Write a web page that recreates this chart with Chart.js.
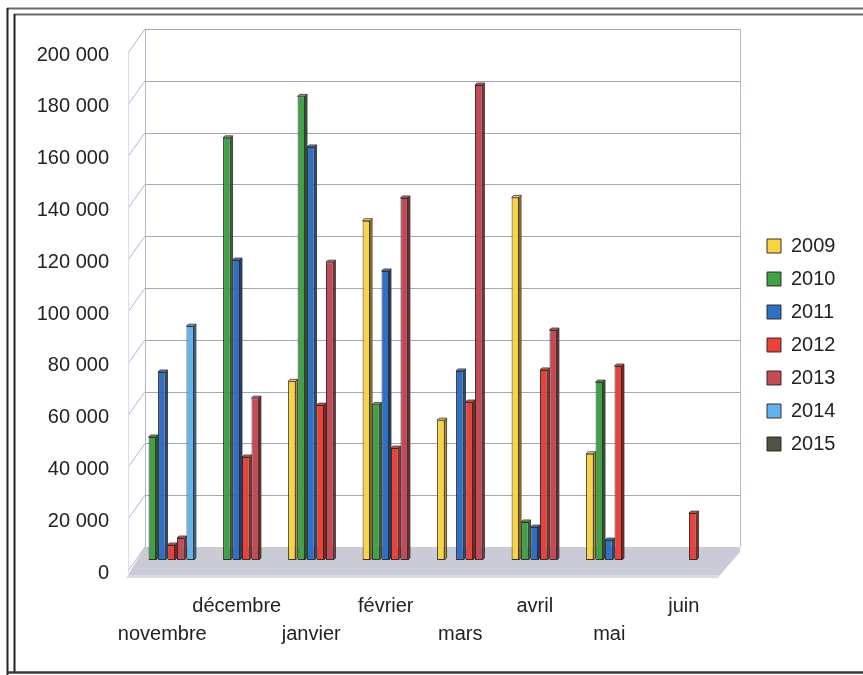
<!DOCTYPE html>
<html>
<head>
<meta charset="utf-8">
<title>Volumes mensuels 2009-2015</title>
<script src="https://cdn.jsdelivr.net/npm/chart.js@4/dist/chart.umd.min.js"></script>
<style>
  html, body { margin: 0; padding: 0; background: #ffffff; }
  #wrap { width: 863px; height: 675px; }
</style>
</head>
<body>
<div id="wrap"><canvas id="chart" width="863" height="675"></canvas></div>
<script>
// Months of the season, November to June
const months = ['novembre', 'décembre', 'janvier', 'février', 'mars', 'avril', 'mai', 'juin'];
const years = ['2009', '2010', '2011', '2012', '2013', '2014', '2015'];

// One array of monthly values per season (null = no value for that month)
const values2009 = [null, null, 69000, 131000, 54000, 140000, 41000, null];
const values2010 = [47500, 163000, 179000, 60000, null, 14700, 68700, null];
const values2011 = [72600, 115800, 159500, 111600, 73000, 12700, 7700, null];
const values2012 = [5800, 39800, 59800, 43200, 61000, 73400, 74900, 18100];
const values2013 = [8500, 62500, 115000, 139800, 183400, 88800, null, null];
const values2014 = [90300, null, null, null, null, null, null, null];
const values2015 = [null, null, null, null, null, null, null, null];

const yTickLabels = ['0', '20 000', '40 000', '60 000', '80 000', '100 000',
                     '120 000', '140 000', '160 000', '180 000', '200 000'];

const seriesValues = [values2009, values2010, values2011, values2012, values2013, values2014, values2015];
const seriesColors = ['#f6d443', '#41a048', '#2f6fc6', '#e8423a', '#c24b55', '#62b2ec', '#4d5444'];

const FONT = "'Liberation Sans', Arial, sans-serif";

// Depth offsets of the pseudo-3D box relative to the bar plane
const FRONT = { dx: -6, dy: 13 };
const BACK = { dx: 11, dy: -13 };
const BAR_DEPTH = 2;

function shade(hex, f) {
  const n = parseInt(hex.slice(1), 16);
  let r = (n >> 16) & 255, g = (n >> 8) & 255, b = n & 255;
  if (f < 0) { r *= 1 + f; g *= 1 + f; b *= 1 + f; }
  else { r += (255 - r) * f; g += (255 - g) * f; b += (255 - b) * f; }
  return `rgb(${Math.round(r)},${Math.round(g)},${Math.round(b)})`;
}

// Double frame around the whole figure
const framePlugin = {
  id: 'frame',
  beforeDraw(chart) {
    const ctx = chart.ctx;
    const W = chart.width, H = chart.height;
    ctx.save();
    ctx.fillStyle = '#ffffff';
    ctx.fillRect(0, 0, W, H);
    ctx.strokeStyle = '#6a6a6a';
    ctx.lineWidth = 2;
    ctx.beginPath();
    ctx.moveTo(7, 8.5); ctx.lineTo(W, 8.5);
    ctx.moveTo(14, 14.5); ctx.lineTo(W, 14.5);
    ctx.stroke();
    ctx.strokeStyle = '#222222';
    ctx.beginPath();
    ctx.moveTo(7.5, 8); ctx.lineTo(7.5, H);
    ctx.moveTo(14.5, 14); ctx.lineTo(14.5, 672);
    ctx.stroke();
    ctx.strokeStyle = '#3a3a3a';
    ctx.lineWidth = 2.5;
    ctx.beginPath();
    ctx.moveTo(7, 672.5); ctx.lineTo(W, 672.5);
    ctx.stroke();
    ctx.restore();
  }
};

// Back wall, side wall and floor of the 3D box, built from the y scale ticks
const wallsPlugin = {
  id: 'walls',
  beforeDatasetsDraw(chart) {
    const { ctx, chartArea } = chart;
    const ys = chart.scales.y;
    const L = chartArea.left, R = chartArea.right;
    const base = ys.getPixelForValue(0);
    const top = ys.getPixelForValue(ys.max);
    ctx.save();

    // floor
    ctx.fillStyle = '#cbcbd7';
    ctx.beginPath();
    ctx.moveTo(L + FRONT.dx, base + FRONT.dy + 2);
    ctx.lineTo(R - 10, base + FRONT.dy + 2);
    ctx.lineTo(R + BACK.dx - 1, base + BACK.dy + 5);
    ctx.lineTo(R + BACK.dx - 1, base + BACK.dy);
    ctx.lineTo(L + BACK.dx, base + BACK.dy);
    ctx.closePath();
    ctx.fill();
    ctx.fillStyle = '#dadae4';
    ctx.beginPath();
    ctx.moveTo(L + FRONT.dx, base + FRONT.dy + 2);
    ctx.lineTo(R - 10, base + FRONT.dy + 2);
    ctx.lineTo(R - 12, base + FRONT.dy + 5);
    ctx.lineTo(L + FRONT.dx - 2, base + FRONT.dy + 5);
    ctx.closePath();
    ctx.fill();

    // back wall horizontal grid
    ctx.lineWidth = 1;
    ctx.strokeStyle = '#a8a8b4';
    ys.ticks.forEach(t => {
      if (t.value === 0) return;
      const y = Math.round(ys.getPixelForValue(t.value) + BACK.dy) + 0.5;
      ctx.beginPath();
      ctx.moveTo(L + BACK.dx, y);
      ctx.lineTo(R + BACK.dx - 1, y);
      ctx.stroke();
    });

    // side wall: slanted tick lines and edges
    ctx.strokeStyle = '#b4b4d2';
    ys.ticks.forEach(t => {
      const y = ys.getPixelForValue(t.value);
      ctx.beginPath();
      ctx.moveTo(L + FRONT.dx, y + FRONT.dy - 2);
      ctx.lineTo(L + BACK.dx, y + BACK.dy);
      ctx.stroke();
    });
    ctx.beginPath();
    ctx.moveTo(L + BACK.dx + 0.5, top + BACK.dy);
    ctx.lineTo(L + BACK.dx + 0.5, base + BACK.dy);
    ctx.moveTo(R + BACK.dx - 0.5, top + BACK.dy);
    ctx.lineTo(R + BACK.dx - 0.5, base + BACK.dy);
    ctx.stroke();
    ctx.strokeStyle = '#dcdcec';
    ctx.beginPath();
    ctx.moveTo(L + FRONT.dx + 0.5, top + FRONT.dy - 2);
    ctx.lineTo(L + FRONT.dx + 0.5, base + FRONT.dy);
    ctx.stroke();
    ctx.restore();
  }
};

// Top and side faces that give each bar its depth
const barDepthPlugin = {
  id: 'barDepth',
  afterDatasetsDraw(chart) {
    const ctx = chart.ctx;
    const d = BAR_DEPTH;
    ctx.save();
    ctx.lineWidth = 0.8;
    ctx.strokeStyle = 'rgba(40,30,30,0.9)';
    chart.data.datasets.forEach((ds, i) => {
      const meta = chart.getDatasetMeta(i);
      meta.data.forEach((el, j) => {
        if (ds.data[j] === null || !isFinite(el.y)) return;
        const { x, y, base, width } = el.getProps(['x', 'y', 'base', 'width'], true);
        const l = x - width / 2, r = x + width / 2;
        ctx.fillStyle = shade(seriesColors[i], -0.3);
        ctx.beginPath();
        ctx.moveTo(r, y); ctx.lineTo(r + d, y - d);
        ctx.lineTo(r + d, base - d); ctx.lineTo(r, base);
        ctx.closePath(); ctx.fill(); ctx.stroke();
        ctx.fillStyle = shade(seriesColors[i], 0.2);
        ctx.beginPath();
        ctx.moveTo(l, y); ctx.lineTo(l + d, y - d);
        ctx.lineTo(r + d, y - d); ctx.lineTo(r, y);
        ctx.closePath(); ctx.fill(); ctx.stroke();
      });
    });
    ctx.restore();
  }
};

const datasets = years.map((yr, i) => ({
  label: yr,
  data: seriesValues[i],
  backgroundColor: seriesColors[i],
  borderColor: 'rgba(40,30,30,0.9)',
  borderWidth: 1,
  borderSkipped: false,
  categoryPercentage: 0.89,
  barPercentage: 0.79
}));

new Chart(document.getElementById('chart'), {
  type: 'bar',
  data: { labels: months, datasets },
  plugins: [framePlugin, wallsPlugin, barDepthPlugin],
  options: {
    responsive: false,
    animation: false,
    layout: { padding: { left: 20, right: 21, top: 42, bottom: 27 } },
    plugins: {
      tooltip: { enabled: false },
      legend: {
        position: 'right',
        maxWidth: 88,
        labels: {
          boxWidth: 14,
          boxHeight: 14,
          padding: 13,
          color: '#222222',
          font: { family: FONT, size: 20 },
          sort: (a, b) => a.datasetIndex - b.datasetIndex
        }
      }
    },
    scales: {
      x: {
        grid: { display: false, drawTicks: false },
        border: { display: false },
        afterFit: scale => { scale.height = 88; },
        ticks: {
          autoSkip: false,
          maxRotation: 0,
          minRotation: 0,
          padding: 32,
          labelOffset: -9,
          color: '#222222',
          font: { family: FONT, size: 20, lineHeight: 1.4 },
          callback: (value, index) => index % 2 === 0 ? ['', months[index]] : [months[index], '']
        }
      },
      y: {
        min: 0,
        max: 200000,
        grid: { display: false, drawTicks: false },
        border: { display: false },
        afterFit: scale => { scale.width = 114; },
        ticks: {
          stepSize: 20000,
          padding: 25,
          labelOffset: 13,
          color: '#222222',
          font: { family: FONT, size: 20 },
          callback: (value, index) => yTickLabels[index]
        }
      },
      gap: {
        type: 'linear',
        position: 'right',
        display: true,
        grid: { display: false, drawTicks: false },
        border: { display: false },
        ticks: { display: false },
        afterFit: scale => { scale.width = 24; }
      }
    }
  }
});
</script>
</body>
</html>
